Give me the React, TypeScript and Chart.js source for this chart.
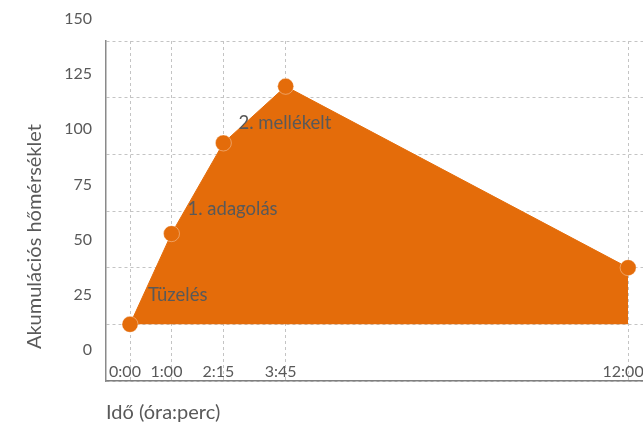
import React, { useEffect, useRef } from 'react';
import { Chart, registerables } from 'chart.js';

Chart.register(...registerables);

// ---- data ----
const timeMinutes = [0, 60, 135, 225, 720];
const temperature = [25, 65, 105, 130, 50];
const pointLabels = ['Tüzelés', '1. adagolás', '2. mellékelt', '', ''];
const xTickValues = [0, 60, 135, 225, 720];
const yTickValues = [0, 25, 50, 75, 100, 125, 150];
const fillBase = 25;
const xTitle = 'Idő (óra:perc)';
const yTitle = 'Akumulációs hőmérséklet';

// ---- style ----
const ORANGE = '#E46C0A';
const TEXT = '#595959';
const FONT = 'Lato';
const GRID = '#c4c4c4';
const LABEL_OFFSETS: number[][] = [[18, -23], [16, -19], [15, -14], [0, 0], [0, 0]];

function fmtTime(m: number): string {
  const h = Math.floor(m / 60);
  const mm = Math.round(m % 60);
  return `${h}:${String(mm).padStart(2, '0')}`;
}

const pointLabelPlugin = {
  id: 'pointLabelPlugin',
  afterDatasetsDraw(chart: any) {
    const meta = chart.getDatasetMeta(0);
    const ctx = chart.ctx;
    ctx.save();
    ctx.font = `18.5px ${FONT}`;
    ctx.fillStyle = TEXT;
    ctx.textAlign = 'left';
    ctx.textBaseline = 'alphabetic';
    meta.data.forEach((el: any, i: number) => {
      const t = pointLabels[i];
      if (!t) return;
      const [dx, dy] = LABEL_OFFSETS[i];
      ctx.fillText(t, el.x + dx, el.y + dy);
    });
    ctx.restore();
  },
};

export default function App() {
  const ref = useRef<HTMLCanvasElement>(null);
  useEffect(() => {
    if (!ref.current) return;
    const chart = new Chart(ref.current, {
      type: 'line',
      data: {
        datasets: [
          {
            data: timeMinutes.map((t, i) => ({ x: t, y: temperature[i] })),
            borderColor: ORANGE,
            borderWidth: 1,
            backgroundColor: ORANGE,
            fill: { value: fillBase },
            tension: 0,
            pointRadius: 8,
            pointBackgroundColor: ORANGE,
            pointBorderColor: 'rgba(255,255,255,0.35)',
            pointBorderWidth: 1,
            yAxisID: 'y',
            xAxisID: 'x',
          },
        ],
      },
      options: {
        animation: false,
        responsive: true,
        maintainAspectRatio: false,
        layout: { padding: { top: 41, right: 0, bottom: 0, left: 0 } },
        plugins: {
          legend: { display: false },
          tooltip: { enabled: false },
        },
        scales: {
          x: {
            type: 'linear',
            position: 'bottom',
            min: -34.7,
            max: 782,
            afterBuildTicks: (s: any) => {
              s.ticks = xTickValues.map((v) => ({ value: v }));
            },
            afterFit: (s: any) => {
              s.height = 44;
            },
            ticks: {
              callback: (v: any) => fmtTime(Number(v)),
              autoSkip: false,
              maxRotation: 0,
              mirror: true,
              padding: 0,
              labelOffset: -5,
              color: TEXT,
              font: { family: FONT, size: 16 },
            },
            grid: { color: GRID, drawTicks: false, lineWidth: 1 },
            border: { color: '#7f7f7f', width: 1.5, dash: [3, 3] },
            title: {
              display: true,
              text: xTitle,
              align: 'start',
              color: TEXT,
              font: { family: FONT, size: 20 },
              padding: { top: 0, bottom: 0 },
            },
          },
          y: {
            type: 'linear',
            position: 'left',
            weight: 0,
            min: 0,
            max: 150,
            afterBuildTicks: (s: any) => {
              s.ticks = yTickValues.map((v) => ({ value: v }));
            },
            ticks: { display: false },
            grid: { color: GRID, drawTicks: false, lineWidth: 1 },
            border: { color: '#8a8a8a', width: 1.5, dash: [3, 3] },
          },
          yl: {
            type: 'linear',
            position: 'left',
            weight: 1,
            min: 0,
            max: 154.06,
            afterBuildTicks: (s: any) => {
              s.ticks = yTickValues.map((v) => ({ value: v }));
            },
            afterFit: (s: any) => {
              s.width = 106;
            },
            ticks: {
              color: TEXT,
              font: { family: FONT, size: 16 },
              padding: 14,
              labelOffset: -31,
            },
            grid: { display: false, drawTicks: false },
            border: { display: false },
            title: {
              display: true,
              text: yTitle + '\u00A0'.repeat(10),
              color: TEXT,
              font: { family: FONT, size: 20 },
              padding: { top: 23, bottom: 0 },
            },
          },
        },
      },
      plugins: [pointLabelPlugin],
    } as any);
    return () => chart.destroy();
  }, []);

  return (
    <div
      style={{
        position: 'fixed',
        left: 0,
        top: 0,
        width: 643,
        height: 425,
        overflow: 'hidden',
        background: '#fff',
      }}
    >
      <div style={{ position: 'relative', width: 680, height: 425 }}>
        <canvas ref={ref} />
      </div>
    </div>
  );
}
